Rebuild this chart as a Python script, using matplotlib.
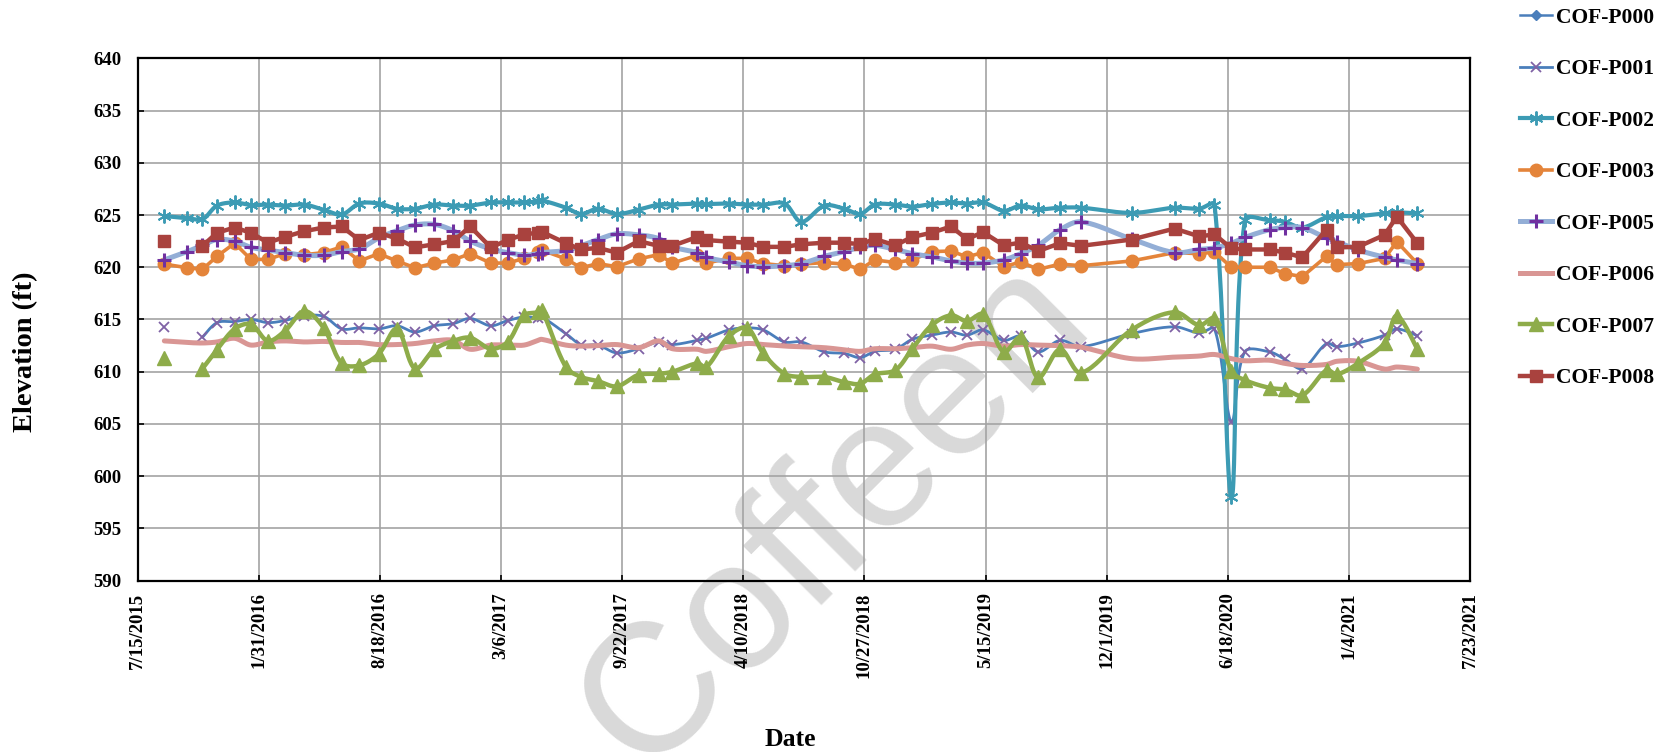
import numpy as np
import matplotlib
matplotlib.use("Agg")
import matplotlib.pyplot as plt
import matplotlib.dates as mdates
from matplotlib.lines import Line2D
from matplotlib.ticker import FuncFormatter, MultipleLocator

nan = np.nan

# sampling dates shared by all piezometers
dates = [
    "2015-08-28", "2015-10-05", "2015-10-30", "2015-11-23", "2015-12-22",
    "2016-01-18", "2016-02-15", "2016-03-14", "2016-04-15", "2016-05-17",
    "2016-06-16", "2016-07-15", "2016-08-16", "2016-09-15", "2016-10-15",
    "2016-11-16", "2016-12-17", "2017-01-14", "2017-02-17", "2017-03-17",
    "2017-04-13", "2017-05-06", "2017-05-12", "2017-06-21", "2017-07-16",
    "2017-08-13", "2017-09-13", "2017-10-19", "2017-11-21", "2017-12-14",
    "2018-01-24", "2018-02-08", "2018-03-17", "2018-04-16", "2018-05-13",
    "2018-06-17", "2018-07-15", "2018-08-22", "2018-09-24", "2018-10-20",
    "2018-11-13", "2018-12-17", "2019-01-14", "2019-02-15", "2019-03-19",
    "2019-04-14", "2019-05-11", "2019-06-14", "2019-07-12", "2019-08-10",
    "2019-09-15", "2019-10-20", "2020-01-11", "2020-03-22", "2020-05-02",
    "2020-05-27", "2020-06-24", "2020-07-16", "2020-08-26", "2020-09-20",
    "2020-10-19", "2020-11-28", "2020-12-15", "2021-01-19", "2021-03-04",
    "2021-03-24", "2021-04-27",
]

# groundwater elevations (ft), nan = no reading
p000 = []
p001 = [614.3, nan, 613.3, 614.7, 614.8,
        615.0, 614.7, 614.9, 615.35, 615.3,
        614.1, 614.2, 614.1, 614.4, 613.8,
        614.4, 614.6, 615.1, 614.4, 614.9,
        615.25, 615.15, 615.25, 613.65, 612.6,
        612.55, 611.8, 612.2, 612.85, 612.6,
        613.0, 613.2, 614.0, 614.2, 614.0,
        612.85, 612.85, 611.9, 611.75, 611.35,
        611.95, 612.15, 613.1, 613.5, 613.8,
        613.5, 614.0, 613.0, 613.4, 611.9,
        613.0, 612.4, 613.65, 614.3, 613.7,
        614.1, 605.2, 611.9, 611.9, 611.2,
        610.3, 612.7, 612.4, 612.75, 613.5,
        614.1, 613.45]
p002 = [624.9, 624.7, 624.6, 625.9, 626.2,
        625.95, 626.0, 625.9, 626.0, 625.5,
        625.05, 626.1, 626.1, 625.6, 625.6,
        626.0, 625.9, 625.9, 626.2, 626.2,
        626.2, 626.3, 626.4, 625.7, 625.1,
        625.6, 625.1, 625.5, 626.0, 626.0,
        626.1, 626.05, 626.1, 626.0, 626.0,
        626.1, 624.35, 625.9, 625.6, 625.1,
        626.0, 626.0, 625.8, 626.05, 626.2,
        626.1, 626.2, 625.4, 625.9, 625.55,
        625.7, 625.7, 625.2, 625.7, 625.6,
        626.0, 598.0, 624.5, 624.5, 624.35,
        623.8, 624.8, 624.9, 624.9, 625.15,
        625.25, 625.15]
p003 = [620.3, 619.95, 619.8, 621.05, 622.3,
        620.75, 620.75, 621.3, 621.2, 621.4,
        621.95, 620.6, 621.3, 620.6, 619.95,
        620.4, 620.7, 621.3, 620.4, 620.4,
        620.85, 621.5, 621.65, 620.8, 619.95,
        620.35, 620.05, 620.8, 621.2, 620.4,
        621.15, 620.4, 620.85, 620.85, 620.35,
        620.15, 620.3, 620.45, 620.3, 619.8,
        620.7, 620.45, 620.7, 621.5, 621.55,
        621.0, 621.4, 620.05, 620.5, 619.8,
        620.3, 620.15, 620.6, 621.4, 621.3,
        621.45, 620.0, 620.0, 620.0, 619.4,
        619.1, 621.05, 620.25, 620.35, 620.85,
        622.45, 620.35]
p005 = [620.7, 621.5, 622.1, 622.65, 622.5,
        621.9, 621.65, 621.4, 621.15, 621.15,
        621.5, 621.75, 622.8, 623.5, 624.05,
        624.1, 623.5, 622.5, 621.75, 621.4,
        621.15, 621.3, 621.4, 621.6, 622.05,
        622.65, 623.2, 623.1, 622.75, 621.95,
        621.4, 620.95, 620.5, 620.15, 620.05,
        620.15, 620.35, 621.05, 621.5, 621.9,
        622.1, 621.7, 621.3, 621.0, 620.6,
        620.4, 620.4, 620.7, 621.3, 622.1,
        623.6, 624.35, 622.7, 621.4, 621.7,
        621.85, 622.3, 622.85, 623.6, 623.8,
        623.8, 622.8, 622.45, 621.65, 620.95,
        620.7, 620.35]
p006 = [612.95, 612.8, 612.75, 612.85, 613.2,
        612.55, 612.85, 612.95, 612.85, 612.9,
        612.8, 612.8, 612.6, 612.6, 612.7,
        612.95, 613.0, 612.15, 612.55, 612.55,
        612.55, 613.0, 613.1, 612.55, 612.45,
        612.5, 612.6, 612.3, 612.95, 612.2,
        612.15, 611.95, 612.4, 612.7, 612.6,
        612.45, 612.4, 612.3, 612.1, 611.95,
        612.2, 612.2, 612.3, 612.45, 612.15,
        612.55, 612.7, 612.45, 612.6, 612.55,
        612.5, 612.35, 611.25, 611.4, 611.5,
        611.65, 611.25, 611.05, 611.1, 610.8,
        610.6, 610.7, 611.0, 611.0, 610.25,
        610.45, 610.25]
p007 = [611.35, nan, 610.3, 612.1, 614.1,
        614.55, 612.95, 613.9, 615.8, 614.2,
        610.8, 610.6, 611.7, 614.1, 610.3,
        612.15, 612.95, 613.25, 612.2, 612.85,
        615.4, 615.7, 615.95, 610.45, 609.5,
        609.1, 608.6, 609.7, 609.8, 610.0,
        610.8, 610.45, 613.4, 614.2, 611.75,
        609.8, 609.5, 609.5, 609.0, 608.85,
        609.75, 610.15, 612.2, 614.45, 615.4,
        614.85, 615.5, 611.9, 613.3, 609.45,
        612.15, 609.9, 614.0, 615.7, 614.45,
        615.1, 610.05, 609.2, 608.45, 608.3,
        607.75, 610.15, 609.75, 610.8, 612.75,
        615.35, 612.15]
p008 = [622.5, nan, 622.05, 623.3, 623.8,
        623.3, 622.35, 622.9, 623.45, 623.8,
        623.9, 622.6, 623.3, 622.75, 621.9,
        622.2, 622.5, 623.9, 621.9, 622.6,
        623.15, 623.3, 623.4, 622.3, 621.7,
        621.85, 621.4, 622.5, 622.05, 622.05,
        622.9, 622.6, 622.45, 622.35, 621.95,
        621.95, 622.2, 622.35, 622.35, 622.2,
        622.7, 622.1, 622.9, 623.3, 623.9,
        622.7, 623.35, 622.1, 622.35, 621.55,
        622.3, 622.05, 622.65, 623.7, 622.95,
        623.15, 621.8, 621.7, 621.7, 621.4,
        620.95, 623.6, 621.9, 621.95, 623.1,
        624.85, 622.3]

wells = ["COF-P000", "COF-P001", "COF-P002", "COF-P003",
         "COF-P005", "COF-P006", "COF-P007", "COF-P008"]


def smooth_curve(ax, x, y, steps=24):
    # Bezier smoothing done in pixel space; handle length follows the
    # neighbouring segment lengths so long jumps don't overshoot much
    pts = ax.transData.transform(np.column_stack([x, y]))
    n = len(pts)
    if n < 3:
        return x, y
    d = np.hypot(*np.diff(pts, axis=0).T)
    tang = np.empty_like(pts)
    tang[1:-1] = pts[2:] - pts[:-2]
    tang[0] = pts[1] - pts[0]
    tang[-1] = pts[-1] - pts[-2]
    t = np.linspace(0, 1, steps)[:, None]
    out = []
    for i in range(n - 1):
        w1 = 0.5 if i == 0 else d[i] / (d[i - 1] + d[i])
        w2 = 0.5 if i == n - 2 else d[i] / (d[i] + d[i + 1])
        p1, p2 = pts[i], pts[i + 1]
        c1 = p1 + tang[i] * w1 / 3
        c2 = p2 - tang[i + 1] * w2 / 3
        seg = ((1 - t) ** 3) * p1 + 3 * ((1 - t) ** 2) * t * c1 \
            + 3 * (1 - t) * t ** 2 * c2 + t ** 3 * p2
        out.append(seg if i == 0 else seg[1:])
    curve = ax.transData.inverted().transform(np.vstack(out))
    return curve[:, 0], curve[:, 1]


def runs(x, y):
    # split a series where readings are missing
    y = np.asarray(y, float)
    ok = np.isfinite(y)
    start = None
    for i in range(len(y) + 1):
        if i < len(y) and ok[i]:
            if start is None:
                start = i
        elif start is not None:
            yield x[start:i], y[start:i]
            start = None


plt.rcParams["font.family"] = ["Liberation Serif", "DejaVu Serif"]
plt.rcParams["font.weight"] = "bold"

fig = plt.figure(figsize=(16.69, 7.52), dpi=100)
ax = fig.add_axes([0.0825, 0.2278, 0.8808 - 0.0825, 0.9225 - 0.2278])

x = mdates.date2num(np.array(dates, dtype="datetime64[D]"))

# axes limits first so the smoothing can work in pixels
x0 = mdates.date2num(np.datetime64("2015-07-15"))
x1 = mdates.date2num(np.datetime64("2021-07-23"))
ax.set_xlim(x0, x1)
ax.set_ylim(590, 640)

styles = [
    dict(data=p000, color="#4A7EBB", lw=1.8, marker="D", ms=5.5, mc="#4A7EBB", mew=1.0, smooth=True),
    dict(data=p001, color="#4A7EBB", lw=2.0, marker="x", ms=6.5, mc="#7F62A5", mew=1.3, smooth=True),
    dict(data=p002, color="#3C9BB4", lw=3.0, marker=(6, 2, 0), ms=10, mc="#3C9BB4", mew=1.4, smooth=True),
    dict(data=p003, color="#E4843A", lw=2.6, marker="o", ms=9, mc="#E4843A", mew=1.0, smooth=False),
    dict(data=p005, color="#93AED6", lw=3.6, marker="+", ms=10, mc="#7030A0", mew=2.2, smooth=True),
    dict(data=p006, color="#D99694", lw=3.6, marker=None, ms=0, mc="#D99694", mew=0, smooth=True),
    dict(data=p007, color="#8EAC4A", lw=3.2, marker="^", ms=10, mc="#8EAC4A", mew=1.0, smooth=True),
    dict(data=p008, color="#A9423E", lw=3.2, marker="s", ms=9, mc="#A9423E", mew=1.0, smooth=False),
]

handles = []
for k, (name, st) in enumerate(zip(wells, styles)):
    z = 3 + k
    if len(st["data"]):
        for xs, ys in runs(x, st["data"]):
            if len(xs) > 1:
                cx, cy = smooth_curve(ax, xs, ys) if st["smooth"] else (xs, ys)
                ax.plot(cx, cy, color=st["color"], lw=st["lw"], zorder=z,
                        solid_joinstyle="round", solid_capstyle="round")
            if st["marker"] is not None:
                ax.plot(xs, ys, ls="none", marker=st["marker"], ms=st["ms"],
                        mfc=st["mc"], mec=st["mc"], mew=st["mew"], zorder=z + 0.5)
    handles.append(Line2D([], [], color=st["color"], lw=st["lw"], marker=st["marker"],
                          ms=st["ms"], mfc=st["mc"], mec=st["mc"], mew=st["mew"]))

# 200-day spacing on the date axis
ax.set_xticks(np.arange(x0, x1 + 1, 200))
ax.xaxis.set_major_formatter(FuncFormatter(
    lambda v, p: "{d.month}/{d.day}/{d.year}".format(d=mdates.num2date(v))))
ax.yaxis.set_major_locator(MultipleLocator(5))

ax.grid(True, color="#a3a3a3", lw=1.2)
ax.set_axisbelow(True)
for s in ax.spines.values():
    s.set_linewidth(1.6)
    s.set_color("black")
ax.tick_params(axis="both", direction="in", length=4, width=1.2, labelsize=13.5)
ax.tick_params(axis="x", labelrotation=90, pad=8.5)
ax.tick_params(axis="y", pad=12)

fig.text(26 / 1669, 1 - 352 / 752, "Elevation (ft)", rotation=90, ha="center",
         va="center", fontsize=20.5, fontweight="bold")
fig.text(790 / 1669, 1 - 740 / 752, "Date", ha="center", va="center",
         fontsize=18.5, fontweight="bold")

ax.text(835 / 1669, 1 - 515 / 752, "Coffeen", transform=fig.transFigure,
        fontsize=132, family="Liberation Sans", fontweight="normal",
        color="#d9d9d9", rotation=45, ha="center", va="center",
        rotation_mode="anchor", zorder=0.3, clip_on=False)

fig.legend(handles, wells, loc="upper left", bbox_to_anchor=(0.911, 0.9895),
           frameon=False, prop=dict(family="Liberation Serif", weight="bold", size=15.5),
           handlelength=1.45, handletextpad=0.2, labelspacing=1.46,
           borderaxespad=0, borderpad=0)

fig.savefig("out.png", dpi=100)
